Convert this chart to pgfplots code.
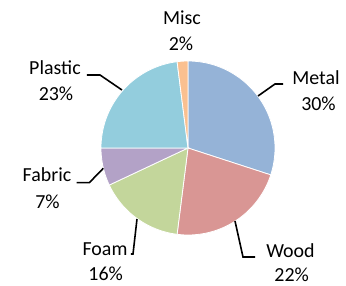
\documentclass[border=0pt]{standalone}
\usepackage{pgfplots}
\usepackage{pgfplotstable}
\pgfplotsset{compat=1.18}
\usepackage{fontspec}
\setmainfont{Carlito}
\definecolor{slice0}{RGB}{149,179,215}
\definecolor{slice1}{RGB}{217,150,148}
\definecolor{slice2}{RGB}{195,214,155}
\definecolor{slice3}{RGB}{179,162,199}
\definecolor{slice4}{RGB}{147,205,221}
\definecolor{slice5}{RGB}{250,192,144}
\pgfplotstableread{
name pct
Metal 30
Wood 22
Foam 16
Fabric 7
Plastic 23
Misc 2
}\piedata
\begin{document}
\begin{tikzpicture}[lbl/.style={anchor=base, inner sep=0pt, text depth=0pt, font=\fontsize{20}{25}\selectfont}]
\path[use as bounding box] (-188bp,-138bp) rectangle (158bp,148bp);
\begin{axis}[hide axis, scale only axis, width=174bp, height=174bp,
  xmin=-1, xmax=1, ymin=-1, ymax=1, at={(0,0)}, anchor=origin, clip=false]
\pgfmathsetmacro{\cum}{0}
\pgfplotsforeachungrouped \i in {0,...,5} {
  \pgfplotstablegetelem{\i}{pct}\of\piedata
  \pgfmathsetmacro{\a}{90-3.6*\cum}
  \pgfmathsetmacro{\b}{90-3.6*(\cum+\pgfplotsretval)}
  \edef\temp{\noexpand\addplot[draw=white, line width=0.8pt, fill=slice\i, domain=\b:\a, samples=80] ({cos(x)},{sin(x)}) -- (0,0) -- cycle;}
  \temp
  \pgfmathsetmacro{\cum}{\cum+\pgfplotsretval}
}
\end{axis}
% leader lines
\draw[line width=1.6pt] (95bp,64bp) -- (87bp,64bp) -- (70bp,52bp);
\draw[line width=1.6pt] (-101bp,73bp) -- (-88bp,73bp) -- (-66bp,58bp);
\draw[line width=1.6pt] (-111.3bp,-34.7bp) -- (-98.7bp,-34.7bp) -- (-84.7bp,-20.3bp);
\draw[line width=1.6pt] (-57bp,-106bp) -- (-55bp,-106bp) -- (-51bp,-71bp);
\draw[line width=1.6pt] (67bp,-109bp) -- (55bp,-109bp) -- (47bp,-73bp);
% labels
\node[lbl] at (-6bp,123bp) {Misc};
\node[lbl] at (-7bp,97bp) {2\%};
\node[lbl] at (128bp,63bp) {Metal};
\node[lbl] at (130.5bp,38bp) {30\%};
\node[lbl] at (-133bp,73bp) {Plastic};
\node[lbl] at (-132bp,47bp) {23\%};
\node[lbl] at (-141bp,-33.7bp) {Fabric};
\node[lbl] at (-140.5bp,-60bp) {7\%};
\node[lbl] at (-83bp,-107.3bp) {Foam};
\node[lbl] at (-82.3bp,-132.3bp) {16\%};
\node[lbl] at (102.5bp,-109bp) {Wood};
\node[lbl] at (103.7bp,-133bp) {22\%};
\end{tikzpicture}
\end{document}
